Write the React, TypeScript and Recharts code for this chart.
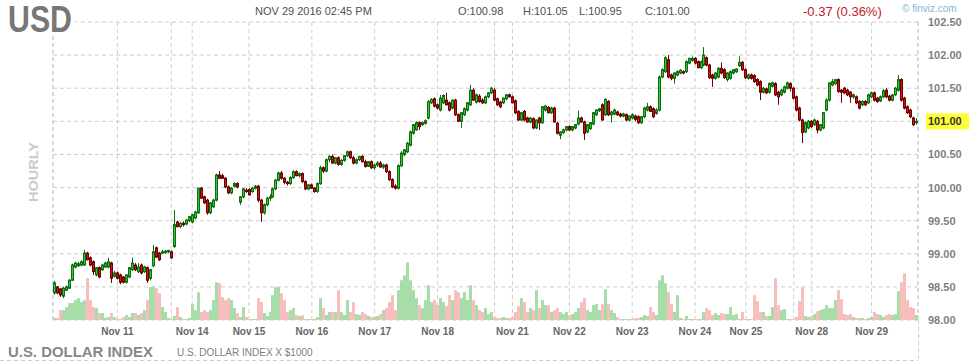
import { ComposedChart, Bar, Line, XAxis, YAxis, CartesianGrid } from 'recharts';

// one hourly bar: [open, high, low, close, volume]
type Candle = [number, number, number, number, number];

const nov10: Candle[] = [
  [98.41, 98.59, 98.38, 98.56, 2], [98.50, 98.51, 98.39, 98.41, 2], [98.47, 98.48, 98.35, 98.38, 10],
  [98.36, 98.50, 98.33, 98.48, 10], [98.45, 98.52, 98.44, 98.50, 13], [98.48, 98.62, 98.47, 98.60, 17],
  [98.60, 98.85, 98.59, 98.83, 17], [98.80, 98.88, 98.78, 98.86, 20], [98.82, 98.88, 98.80, 98.85, 22],
  [98.83, 98.90, 98.81, 98.88, 18], [98.83, 99.06, 98.82, 99.01, 20], [99.01, 99.03, 98.90, 98.91, 42],
  [98.94, 98.96, 98.81, 98.83, 20], [98.88, 98.90, 98.68, 98.73, 13], [98.68, 98.80, 98.66, 98.79, 12],
  [98.79, 98.81, 98.63, 98.65, 7], [98.76, 98.85, 98.74, 98.83, 7], [98.80, 98.88, 98.79, 98.86, 2],
  [98.80, 98.94, 98.78, 98.88, 3], [98.86, 98.88, 98.56, 98.63, 7], [98.66, 98.74, 98.64, 98.71, 3],
];
const nov11: Candle[] = [
  [98.71, 98.73, 98.61, 98.63, 1], [98.68, 98.70, 98.54, 98.57, 1], [98.65, 98.66, 98.55, 98.57, 3],
  [98.57, 98.69, 98.55, 98.68, 5], [98.65, 98.80, 98.63, 98.79, 3], [98.76, 98.94, 98.74, 98.86, 7],
  [98.83, 98.86, 98.74, 98.76, 7], [98.73, 98.86, 98.71, 98.80, 5], [98.83, 98.85, 98.69, 98.71, 7],
  [98.73, 98.82, 98.71, 98.80, 10], [98.79, 98.81, 98.56, 98.60, 20], [98.63, 98.77, 98.60, 98.76, 33],
  [98.82, 99.13, 98.80, 99.03, 34], [99.09, 99.11, 98.94, 98.95, 32], [99.01, 99.03, 98.89, 98.91, 27],
  [99.01, 99.06, 98.99, 99.03, 13], [99.02, 99.06, 99.00, 99.04, 8], [99.03, 99.06, 99.01, 99.05, 2],
];
const sun13: Candle[] = [
  [99.03, 99.05, 98.92, 98.94, 1], [99.11, 99.66, 99.09, 99.44, 4], [99.48, 99.50, 99.40, 99.41, 13],
  [99.41, 99.48, 99.39, 99.46, 3], [99.46, 99.49, 99.41, 99.44, 1], [99.45, 99.52, 99.43, 99.51, 1],
  [99.50, 99.57, 99.48, 99.56, 2],
];
const nov14: Candle[] = [
  [99.48, 99.60, 99.46, 99.59, 16], [99.54, 99.65, 99.52, 99.63, 10], [99.62, 100.00, 99.60, 99.99, 28],
  [99.99, 100.01, 99.83, 99.84, 8], [99.86, 99.88, 99.75, 99.77, 10], [99.81, 99.83, 99.59, 99.62, 8],
  [99.62, 99.78, 99.60, 99.77, 10], [99.71, 99.83, 99.69, 99.81, 20], [99.81, 100.21, 99.79, 100.19, 38],
  [100.19, 100.25, 100.13, 100.14, 37], [100.18, 100.21, 100.13, 100.14, 23], [100.14, 100.16, 99.99, 100.01, 20],
  [100.01, 100.03, 99.90, 99.92, 22], [99.92, 100.01, 99.90, 99.99, 20], [100.02, 100.08, 100.00, 100.06, 12],
  [100.06, 100.08, 99.99, 100.01, 7], [99.78, 99.87, 99.74, 99.86, 3], [99.86, 99.99, 99.84, 99.98, 13],
  [99.96, 99.99, 99.92, 99.94, 3],
];
const nov15: Candle[] = [
  [99.97, 99.99, 99.88, 99.89, 1], [99.94, 100.01, 99.92, 99.99, 1], [99.99, 100.04, 99.97, 100.02, 1],
  [100.02, 100.04, 99.78, 99.81, 22], [99.81, 99.83, 99.48, 99.62, 18], [99.62, 99.76, 99.59, 99.74, 7],
  [99.74, 99.86, 99.72, 99.84, 4], [99.84, 99.90, 99.80, 99.86, 8], [99.86, 100.00, 99.84, 99.98, 25],
  [99.98, 100.13, 99.96, 100.11, 33], [100.11, 100.24, 100.09, 100.22, 33], [100.22, 100.25, 100.12, 100.14, 27],
  [100.14, 100.16, 100.05, 100.08, 20], [100.08, 100.10, 100.03, 100.06, 8], [100.06, 100.17, 100.04, 100.15, 10],
  [100.15, 100.26, 100.13, 100.24, 12], [100.24, 100.26, 100.17, 100.18, 5], [100.18, 100.23, 100.15, 100.21, 4],
  [100.21, 100.23, 100.07, 100.09, 5], [100.09, 100.11, 99.96, 99.98, 1], [99.98, 100.05, 99.96, 100.04, 1],
];
const nov16: Candle[] = [
  [100.04, 100.06, 99.98, 99.99, 1], [99.99, 100.01, 99.92, 99.94, 1], [99.94, 100.08, 99.92, 100.06, 3],
  [100.06, 100.33, 100.04, 100.30, 22], [100.30, 100.32, 100.22, 100.25, 12], [100.25, 100.44, 100.23, 100.42, 5],
  [100.42, 100.49, 100.38, 100.47, 8], [100.47, 100.50, 100.36, 100.37, 8], [100.37, 100.46, 100.35, 100.45, 8],
  [100.45, 100.47, 100.33, 100.35, 30], [100.35, 100.43, 100.33, 100.41, 8], [100.41, 100.49, 100.39, 100.48, 5],
  [100.48, 100.56, 100.46, 100.54, 20], [100.54, 100.56, 100.43, 100.45, 8], [100.45, 100.48, 100.35, 100.37, 18],
  [100.37, 100.44, 100.35, 100.42, 6], [100.42, 100.48, 100.40, 100.47, 5], [100.47, 100.49, 100.38, 100.39, 8],
  [100.39, 100.42, 100.30, 100.32, 6], [100.32, 100.40, 100.31, 100.39, 4], [100.39, 100.41, 100.28, 100.30, 3],
];
const nov17: Candle[] = [
  [100.30, 100.36, 100.27, 100.34, 3], [100.34, 100.40, 100.31, 100.37, 4], [100.37, 100.40, 100.30, 100.31, 6],
  [100.31, 100.36, 100.28, 100.34, 10], [100.34, 100.36, 100.22, 100.24, 12], [100.24, 100.26, 100.10, 100.12, 18],
  [100.12, 100.14, 99.99, 100.01, 25], [100.02, 100.05, 99.97, 99.99, 10], [99.99, 100.35, 99.97, 100.33, 30],
  [100.33, 100.55, 100.31, 100.52, 40], [100.50, 100.58, 100.47, 100.57, 45], [100.54, 100.69, 100.52, 100.67, 58],
  [100.64, 100.86, 100.62, 100.84, 40], [100.82, 100.96, 100.80, 100.95, 30], [100.87, 101.00, 100.86, 100.98, 22],
  [100.98, 101.00, 100.87, 100.92, 15], [100.95, 101.00, 100.93, 100.98, 12], [100.97, 101.03, 100.95, 101.01, 20],
  [101.05, 101.32, 101.03, 101.30, 35], [101.28, 101.35, 101.26, 101.33, 18], [101.34, 101.36, 101.21, 101.23, 20],
];
const nov18: Candle[] = [
  [101.25, 101.27, 101.18, 101.20, 15], [101.17, 101.40, 101.15, 101.35, 22], [101.28, 101.41, 101.26, 101.39, 18],
  [101.32, 101.43, 101.24, 101.25, 14], [101.28, 101.30, 101.15, 101.17, 25], [101.20, 101.33, 101.18, 101.32, 20],
  [101.32, 101.34, 101.08, 101.10, 30], [101.10, 101.12, 100.99, 101.00, 28], [101.00, 101.14, 100.90, 101.13, 22],
  [101.10, 101.21, 101.08, 101.19, 28], [101.17, 101.29, 101.15, 101.28, 20], [101.25, 101.55, 101.23, 101.47, 35],
  [101.47, 101.50, 101.31, 101.32, 20], [101.29, 101.42, 101.27, 101.40, 15], [101.38, 101.41, 101.28, 101.30, 10],
  [101.32, 101.35, 101.26, 101.28, 8], [101.28, 101.39, 101.26, 101.37, 12], [101.37, 101.44, 101.35, 101.43, 6],
  [101.43, 101.52, 101.41, 101.50, 8],
];
const sun20: Candle[] = [
  [101.47, 101.50, 101.31, 101.32, 3], [101.34, 101.36, 101.23, 101.25, 2], [101.29, 101.31, 101.20, 101.22, 2],
  [101.28, 101.36, 101.26, 101.35, 3], [101.34, 101.41, 101.32, 101.40, 2], [101.40, 101.42, 101.36, 101.37, 2],
];
const nov21: Candle[] = [
  [101.37, 101.39, 101.27, 101.28, 3], [101.31, 101.33, 101.11, 101.13, 8], [101.15, 101.17, 101.01, 101.02, 14],
  [101.02, 101.14, 101.00, 101.13, 22], [101.15, 101.17, 101.00, 101.02, 18], [101.05, 101.07, 100.98, 100.99, 8],
  [100.99, 101.06, 100.97, 101.05, 12], [101.04, 101.06, 100.88, 100.90, 10], [100.90, 101.03, 100.88, 101.02, 30],
  [101.05, 101.07, 100.87, 100.98, 12], [100.98, 101.23, 100.96, 101.22, 20], [101.17, 101.25, 101.15, 101.23, 15],
  [101.21, 101.23, 101.12, 101.13, 15], [101.13, 101.22, 101.11, 101.20, 8], [101.20, 101.22, 100.98, 100.99, 10],
  [100.97, 100.99, 100.80, 100.82, 12], [100.79, 100.85, 100.73, 100.84, 8], [100.83, 100.89, 100.81, 100.87, 6],
  [100.87, 100.93, 100.85, 100.92, 8],
];
const nov22: Candle[] = [
  [100.92, 100.94, 100.85, 100.87, 5], [100.87, 100.93, 100.85, 100.92, 6], [100.90, 100.96, 100.88, 100.95, 8],
  [100.96, 101.16, 100.94, 101.05, 12], [101.05, 101.07, 100.98, 100.99, 18], [100.99, 101.01, 100.72, 100.82, 22],
  [100.84, 100.96, 100.82, 100.95, 10], [100.89, 100.99, 100.87, 100.98, 8], [100.96, 101.14, 100.94, 101.13, 15],
  [101.10, 101.18, 101.08, 101.17, 16], [101.16, 101.20, 101.14, 101.19, 10], [101.25, 101.27, 101.01, 101.02, 16],
  [101.10, 101.35, 101.08, 101.33, 31], [101.30, 101.32, 101.08, 101.10, 16], [101.10, 101.16, 100.98, 101.14, 10],
  [101.11, 101.19, 101.09, 101.17, 7], [101.14, 101.16, 101.08, 101.10, 3], [101.11, 101.13, 101.06, 101.08, 1],
  [101.08, 101.13, 101.06, 101.11, 1], [101.10, 101.12, 101.00, 101.02, 1], [101.02, 101.09, 101.00, 101.08, 1],
];
const nov23: Candle[] = [
  [101.05, 101.12, 101.03, 101.10, 1], [101.08, 101.10, 101.00, 101.03, 2], [101.07, 101.09, 100.96, 100.98, 2],
  [100.98, 101.08, 100.96, 101.07, 3], [101.07, 101.22, 101.05, 101.20, 5], [101.17, 101.28, 101.15, 101.22, 4],
  [101.22, 101.24, 101.14, 101.15, 13], [101.19, 101.21, 101.05, 101.07, 8], [101.12, 101.20, 101.10, 101.17, 5],
  [101.17, 101.69, 101.15, 101.67, 40], [101.67, 101.80, 101.65, 101.78, 45], [101.75, 101.98, 101.73, 101.96, 37],
  [101.93, 102.00, 101.65, 101.67, 28], [101.70, 101.72, 101.62, 101.65, 16], [101.65, 101.74, 101.57, 101.73, 8],
  [101.70, 101.77, 101.68, 101.75, 25], [101.73, 101.79, 101.71, 101.77, 2], [101.75, 101.77, 101.71, 101.73, 1],
  [101.75, 101.92, 101.73, 101.90, 4], [101.88, 101.96, 101.86, 101.95, 1], [101.92, 101.98, 101.90, 101.95, 1],
];
const nov24: Candle[] = [
  [101.95, 101.97, 101.86, 101.88, 1], [101.90, 101.92, 101.80, 101.81, 1], [101.81, 101.92, 101.79, 101.90, 1],
  [101.85, 102.12, 101.83, 102.00, 8], [101.96, 101.98, 101.83, 101.85, 12], [101.85, 101.87, 101.64, 101.66, 10],
  [101.70, 101.72, 101.52, 101.65, 5], [101.65, 101.74, 101.63, 101.73, 7], [101.67, 101.82, 101.65, 101.80, 5],
  [101.80, 101.89, 101.71, 101.73, 7], [101.78, 101.80, 101.64, 101.66, 6], [101.63, 101.74, 101.60, 101.73, 6],
  [101.65, 101.77, 101.63, 101.75, 13], [101.73, 101.79, 101.71, 101.78, 5], [101.75, 101.80, 101.73, 101.79, 6],
  [101.84, 101.98, 101.82, 101.89, 1], [101.89, 101.91, 101.76, 101.78, 8],
];
const nov25: Candle[] = [
  [101.78, 101.80, 101.64, 101.66, 1], [101.65, 101.72, 101.63, 101.70, 1], [101.70, 101.72, 101.63, 101.65, 1],
  [101.69, 101.71, 101.58, 101.60, 25], [101.63, 101.65, 101.53, 101.55, 19], [101.60, 101.62, 101.32, 101.44, 8],
  [101.44, 101.52, 101.42, 101.50, 8], [101.49, 101.51, 101.41, 101.43, 4], [101.44, 101.59, 101.42, 101.57, 4],
  [101.53, 101.60, 101.51, 101.58, 13], [101.57, 101.59, 101.38, 101.40, 42], [101.44, 101.46, 101.25, 101.37, 15],
  [101.40, 101.49, 101.38, 101.47, 10], [101.44, 101.54, 101.42, 101.52, 11], [101.50, 101.60, 101.48, 101.58, 1],
  [101.57, 101.59, 101.45, 101.50, 1],
];
const sun27: Candle[] = [
  [101.50, 101.52, 101.33, 101.35, 1], [101.37, 101.39, 101.15, 101.17, 3], [101.20, 101.22, 101.00, 101.02, 19],
  [101.02, 101.04, 100.67, 100.83, 33], [100.84, 101.00, 100.82, 100.98, 4], [100.90, 101.02, 100.88, 101.00, 3],
];
const nov28: Candle[] = [
  [101.00, 101.02, 100.90, 100.92, 4], [100.95, 101.04, 100.93, 101.02, 6], [101.00, 101.02, 100.82, 100.87, 9],
  [100.87, 100.96, 100.85, 100.95, 10], [100.90, 101.14, 100.88, 101.13, 11], [101.17, 101.35, 101.15, 101.32, 15],
  [101.32, 101.59, 101.30, 101.58, 12], [101.55, 101.64, 101.53, 101.60, 12], [101.57, 101.64, 101.55, 101.63, 20],
  [101.63, 101.65, 101.43, 101.45, 30], [101.47, 101.49, 101.28, 101.44, 21], [101.50, 101.52, 101.41, 101.43, 6],
  [101.47, 101.49, 101.38, 101.40, 5], [101.44, 101.46, 101.28, 101.37, 6], [101.37, 101.42, 101.34, 101.40, 3],
  [101.37, 101.39, 101.26, 101.28, 2], [101.30, 101.32, 101.18, 101.20, 2], [101.25, 101.32, 101.23, 101.30, 2],
  [101.30, 101.32, 101.23, 101.25, 1], [101.28, 101.42, 101.26, 101.40, 2],
];
const nov29: Candle[] = [
  [101.37, 101.45, 101.35, 101.43, 3], [101.43, 101.45, 101.30, 101.32, 8], [101.35, 101.37, 101.28, 101.30, 6],
  [101.31, 101.39, 101.29, 101.37, 5], [101.37, 101.49, 101.35, 101.46, 3], [101.47, 101.50, 101.35, 101.37, 5],
  [101.38, 101.40, 101.30, 101.32, 6], [101.32, 101.41, 101.30, 101.40, 5], [101.40, 101.52, 101.38, 101.50, 6],
  [101.47, 101.70, 101.45, 101.63, 29], [101.63, 101.65, 101.30, 101.32, 38], [101.35, 101.37, 101.18, 101.20, 47],
  [101.22, 101.24, 101.11, 101.13, 20], [101.17, 101.19, 101.05, 101.07, 13], [101.05, 101.07, 100.93, 100.95, 12],
  [100.98, 101.05, 100.95, 101.00, 5],
];

// sessions in order; empty label = weekend separator line only
const sessions: { label: string; bars: Candle[] }[] = [
  { label: '', bars: nov10 },
  { label: 'Nov 11', bars: nov11 },
  { label: '', bars: sun13 },
  { label: 'Nov 14', bars: nov14 },
  { label: 'Nov 15', bars: nov15 },
  { label: 'Nov 16', bars: nov16 },
  { label: 'Nov 17', bars: nov17 },
  { label: 'Nov 18', bars: nov18 },
  { label: '', bars: sun20 },
  { label: 'Nov 21', bars: nov21 },
  { label: 'Nov 22', bars: nov22 },
  { label: 'Nov 23', bars: nov23 },
  { label: 'Nov 24', bars: nov24 },
  { label: 'Nov 25', bars: nov25 },
  { label: '', bars: sun27 },
  { label: 'Nov 28', bars: nov28 },
  { label: 'Nov 29', bars: nov29 },
];

const priceTicks = [98, 98.5, 99, 99.5, 100, 100.5, 101, 101.5, 102, 102.5];

const W = 971;
const H = 362;
const FONT = '"Liberation Sans", Arial, Helvetica, sans-serif';
const GRID = '#cdcdcd';
const UP_FILL = '#3cbf3c';
const UP_LINE = '#0c6e0c';
const DN_FILL = '#c41818';
const DN_LINE = '#6e0000';
const VOL_UP = '#a8dca8';
const VOL_DN = '#f8bebe';

const data: any[] = [];
const dayTicks: number[] = [];
const dayLabels: Record<number, string> = {};
sessions.forEach((s) => {
  if (data.length > 0) {
    dayTicks.push(data.length);
    dayLabels[data.length] = s.label;
  }
  s.bars.forEach(([o, h, l, c, v]) => {
    data.push({ i: data.length, o, h, l, c, v, range: [l, h] });
  });
});
const lastClose = data[data.length - 1].c;

function CandleShape(props: any) {
  const { x, y, height, payload } = props;
  const { o, h, l, c } = payload;
  const k = h > l ? height / (h - l) : 0;
  const up = c >= o;
  const bx = Math.round(x);
  const top = y + (h - Math.max(o, c)) * k;
  const bot = y + (h - Math.min(o, c)) * k;
  const line = up ? UP_LINE : DN_LINE;
  return (
    <g>
      <line x1={bx + 1.5} x2={bx + 1.5} y1={y} y2={y + height} stroke={line} strokeWidth={1} />
      <rect
        x={bx + 0.5}
        y={top}
        width={2}
        height={Math.max(bot - top, 1)}
        fill={up ? UP_FILL : DN_FILL}
        stroke={line}
        strokeWidth={1}
      />
    </g>
  );
}

function VolumeShape(props: any) {
  const { x, y, height, payload } = props;
  if (!height || height <= 0) return null;
  return (
    <rect x={Math.round(x)} y={y} width={3} height={height} fill={payload.c >= payload.o ? VOL_UP : VOL_DN} />
  );
}

function DayTick({ x, y, payload }: any) {
  const label = dayLabels[payload.value];
  if (!label) return null;
  return (
    <text x={x} y={y + 15} textAnchor="middle" fontFamily={FONT} fontSize={10} fontWeight="bold" fill="#666">
      {label}
    </text>
  );
}

function PriceTick({ x, y, payload }: any) {
  const v = payload.value;
  const isLast = Math.abs(v - lastClose) < 0.005;
  return (
    <g>
      {isLast && <rect x={x + 8} y={y - 8} width={43} height={16} fill="#ffff38" />}
      <text x={x + 10} y={y + 4} fontFamily={FONT} fontSize={11} fontWeight="bold" fill={isLast ? '#333' : '#808080'}>
        {v.toFixed(2)}
      </text>
    </g>
  );
}

export default function App() {
  return (
    <div style={{ position: 'relative', width: W, height: H, background: '#fff', fontFamily: FONT }}>
      <style>{'body{margin:0}'}</style>

      {/* grid, axes, volume */}
      <div style={{ position: 'absolute', left: 0, top: 0 }}>
        <ComposedChart width={W} height={H} data={data} margin={{ top: 22, right: 0, bottom: 0, left: 0 }} barCategoryGap={0}>
          <CartesianGrid yAxisId="price" stroke={GRID} strokeDasharray="4 3" />
          <XAxis
            dataKey="i"
            type="category"
            ticks={dayTicks}
            interval={0}
            height={42}
            tickLine={false}
            axisLine={false}
            tickSize={0}
            tickMargin={0}
            tick={<DayTick />}
          />
          <YAxis
            yAxisId="vol"
            orientation="left"
            width={53}
            domain={[0, 300]}
            tick={false}
            tickLine={false}
            axisLine={{ stroke: GRID, strokeDasharray: '4 3' }}
          />
          <YAxis
            yAxisId="price"
            type="number"
            orientation="right"
            width={53}
            domain={[98, 102.5]}
            allowDataOverflow
            ticks={priceTicks}
            interval={0}
            tickLine={false}
            tickSize={0}
            tickMargin={0}
            axisLine={{ stroke: GRID, strokeDasharray: '4 3' }}
            tick={<PriceTick />}
          />
          <Bar yAxisId="vol" dataKey="v" shape={<VolumeShape />} isAnimationActive={false} />
          {/* carries the price axis; drawn invisibly, the candles sit in the overlay */}
          <Line yAxisId="price" dataKey="c" stroke="none" dot={false} activeDot={false} isAnimationActive={false} />
        </ComposedChart>
      </div>

      {/* candles */}
      <div style={{ position: 'absolute', left: 0, top: 0 }}>
        <ComposedChart width={W} height={H} data={data} margin={{ top: 22, right: 53, bottom: 42, left: 53 }} barCategoryGap={0}>
          <XAxis dataKey="i" type="category" hide />
          <YAxis yAxisId="price" type="number" hide domain={[98, 102.5]} allowDataOverflow />
          <Bar yAxisId="price" dataKey="range" shape={<CandleShape />} isAnimationActive={false} />
        </ComposedChart>
      </div>

      {/* header, footer and frame */}
      <svg width={W} height={H} style={{ position: 'absolute', left: 0, top: 0, pointerEvents: 'none' }}>
        <rect x={5} y={1} width={70} height={34} fill="#fff" />
        <text x={8} y={32} fontFamily={FONT} fontSize={36} fontWeight="bold" fill="#777" textLength={64} lengthAdjust="spacingAndGlyphs">
          USD
        </text>
        <text x={255} y={15} fontFamily={FONT} fontSize={11} fill="#505050">NOV 29 2016 02:45 PM</text>
        <text x={458} y={15} fontFamily={FONT} fontSize={11} fill="#505050">O:100.98</text>
        <text x={523} y={15} fontFamily={FONT} fontSize={11} fill="#505050">H:101.05</text>
        <text x={579} y={15} fontFamily={FONT} fontSize={11} fill="#505050">L:100.95</text>
        <text x={645} y={15} fontFamily={FONT} fontSize={11} fill="#505050">C:101.00</text>
        <text x={803} y={16} fontFamily={FONT} fontSize={13} fill="#c0202a">-0.37 (0.36%)</text>
        <text x={902} y={12} fontFamily={FONT} fontSize={10} fill="#82b6d8">© finviz.com</text>
        <text
          x={0}
          y={0}
          transform="translate(38,172) rotate(-90)"
          textAnchor="middle"
          fontFamily={FONT}
          fontSize={13}
          fontWeight="bold"
          fill="#cacaca"
          textLength={60}
          lengthAdjust="spacingAndGlyphs"
        >
          HOURLY
        </text>
        <text x={8} y={357} fontFamily={FONT} fontSize={15} fontWeight="bold" fill="#888" textLength={145} lengthAdjust="spacingAndGlyphs">
          U.S. DOLLAR INDEX
        </text>
        <text x={177} y={356} fontFamily={FONT} fontSize={10} fill="#808080">U.S. DOLLAR INDEX X $1000</text>
        <line x1={918.5} x2={918.5} y1={320} y2={362} stroke={GRID} strokeDasharray="4 3" />
        <line x1={0} x2={918} y1={360.5} y2={360.5} stroke={GRID} strokeDasharray="4 3" />
      </svg>
    </div>
  );
}
